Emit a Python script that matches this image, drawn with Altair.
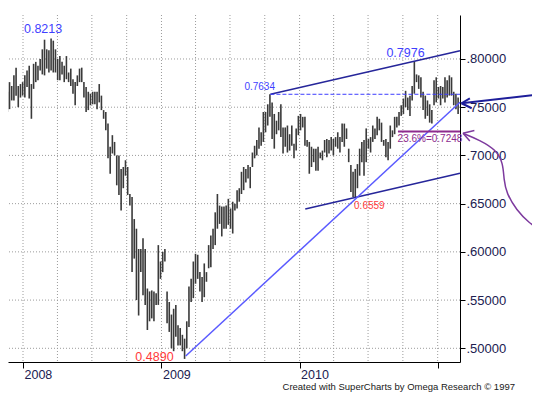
import altair as alt
import pandas as pd

# ---------------- data ----------------
highs = [0.790, 0.767, 0.766, 0.776, 0.772, 0.783, 0.791, 0.772, 0.774, 0.776,
         0.783, 0.788, 0.793, 0.774, 0.795, 0.797, 0.793, 0.800, 0.810, 0.820,
         0.810, 0.809, 0.8213, 0.819, 0.810, 0.800, 0.803, 0.797, 0.793, 0.803,
         0.786, 0.790, 0.779, 0.776, 0.783, 0.790, 0.791, 0.776, 0.771, 0.766,
         0.764, 0.766, 0.766, 0.766, 0.774, 0.762, 0.747, 0.745, 0.733, 0.709,
         0.721, 0.714, 0.700, 0.700, 0.686, 0.688, 0.695, 0.688, 0.660, 0.657,
         0.634, 0.624, 0.603, 0.603, 0.614, 0.603, 0.562, 0.559, 0.560, 0.559,
         0.557, 0.607, 0.590, 0.600, 0.603, 0.559, 0.548, 0.535, 0.541, 0.545,
         0.524, 0.521, 0.514, 0.510, 0.528, 0.564, 0.572, 0.590, 0.598, 0.597,
         0.579, 0.574, 0.588, 0.579, 0.607, 0.617, 0.624, 0.641, 0.660, 0.648,
         0.647, 0.647, 0.648, 0.655, 0.645, 0.652, 0.650, 0.664, 0.666, 0.683,
         0.688, 0.686, 0.690, 0.688, 0.703, 0.710, 0.716, 0.729, 0.724, 0.745,
         0.745, 0.753, 0.7634, 0.755, 0.743, 0.736, 0.745, 0.753, 0.729, 0.729,
         0.731, 0.722, 0.731, 0.712, 0.728, 0.741, 0.743, 0.740, 0.740, 0.716,
         0.714, 0.709, 0.707, 0.707, 0.709, 0.703, 0.705, 0.716, 0.717, 0.716,
         0.719, 0.717, 0.719, 0.724, 0.719, 0.733, 0.733, 0.728, 0.707, 0.690,
         0.683, 0.686, 0.691, 0.707, 0.714, 0.716, 0.728, 0.717, 0.719, 0.731,
         0.728, 0.740, 0.738, 0.734, 0.716, 0.717, 0.714, 0.731, 0.726, 0.740,
         0.740, 0.745, 0.752, 0.759, 0.767, 0.760, 0.762, 0.772, 0.7976, 0.784,
         0.783, 0.781, 0.766, 0.762, 0.757, 0.753, 0.747, 0.778, 0.781, 0.771,
         0.772, 0.771, 0.781, 0.778, 0.783, 0.781, 0.766, 0.764, 0.760]

lows = [0.753, 0.743, 0.745, 0.748, 0.757, 0.757, 0.762, 0.750, 0.760, 0.762,
        0.760, 0.771, 0.759, 0.738, 0.769, 0.776, 0.778, 0.788, 0.784, 0.783,
        0.790, 0.786, 0.788, 0.786, 0.786, 0.778, 0.778, 0.784, 0.776, 0.779,
        0.776, 0.772, 0.764, 0.752, 0.772, 0.776, 0.776, 0.760, 0.745, 0.747,
        0.752, 0.753, 0.753, 0.748, 0.755, 0.747, 0.738, 0.726, 0.697, 0.681,
        0.702, 0.700, 0.669, 0.659, 0.643, 0.666, 0.679, 0.659, 0.648, 0.579,
        0.593, 0.550, 0.534, 0.579, 0.555, 0.545, 0.519, 0.528, 0.531, 0.528,
        0.545, 0.545, 0.572, 0.579, 0.590, 0.526, 0.517, 0.500, 0.497, 0.512,
        0.503, 0.503, 0.497, 0.489, 0.500, 0.522, 0.548, 0.552, 0.567, 0.572,
        0.559, 0.548, 0.553, 0.569, 0.583, 0.584, 0.603, 0.607, 0.624, 0.629,
        0.616, 0.624, 0.624, 0.628, 0.624, 0.619, 0.643, 0.645, 0.652, 0.660,
        0.664, 0.672, 0.676, 0.666, 0.688, 0.697, 0.700, 0.707, 0.710, 0.714,
        0.724, 0.731, 0.740, 0.717, 0.707, 0.722, 0.726, 0.719, 0.702, 0.709,
        0.703, 0.705, 0.710, 0.697, 0.705, 0.721, 0.726, 0.729, 0.710, 0.709,
        0.681, 0.688, 0.693, 0.684, 0.684, 0.697, 0.695, 0.703, 0.698, 0.702,
        0.705, 0.700, 0.709, 0.707, 0.703, 0.714, 0.709, 0.717, 0.693, 0.662,
        0.657, 0.6559, 0.666, 0.679, 0.693, 0.679, 0.693, 0.707, 0.703, 0.714,
        0.717, 0.721, 0.726, 0.714, 0.710, 0.698, 0.695, 0.707, 0.719, 0.722,
        0.729, 0.731, 0.741, 0.743, 0.750, 0.747, 0.741, 0.757, 0.764, 0.776,
        0.769, 0.760, 0.747, 0.738, 0.741, 0.734, 0.733, 0.752, 0.755, 0.759,
        0.752, 0.759, 0.755, 0.760, 0.762, 0.762, 0.752, 0.748, 0.743]

first_bar = "2007-11-09"
last_bar = "2011-02-24"

y_ticks = [0.50, 0.55, 0.60, 0.65, 0.70, 0.75, 0.80]
year_ticks = [2008, 2009, 2010, 2011]
quarter_grid = ["2008-01-01", "2008-04-01", "2008-07-01", "2008-10-01",
                "2009-01-01", "2009-04-01", "2009-07-01", "2009-10-01",
                "2010-01-01", "2010-04-01", "2010-07-01", "2010-10-01",
                "2011-01-01"]

# trend / channel lines: start date, start value, end date, end value
line_names = ["upper", "lower", "trend"]
line_x1 = ["2009-10-16", "2010-01-16", "2009-03-06"]
line_y1 = [0.7634, 0.6444, 0.4920]
line_x2 = ["2011-03-01", "2011-03-01", "2011-03-01"]
line_y2 = [0.8086, 0.6815, 0.7551]

dash_level = 0.7634
dash_from, dash_to = "2009-10-16", "2011-03-01"
fib_level = 0.7248
fib_from, fib_to = "2010-09-18", "2011-03-01"

# price labels
lab_text = ["0.8213", "0.7976", "0.4890", "0.7634", "0.6559", "23.6%=0.7248"]
lab_date = ["2008-02-23", "2010-10-08", "2009-02-02", "2009-10-28", "2010-05-25", "2010-09-17"]
lab_val = [0.8270, 0.8021, 0.4868, 0.7679, 0.6444, 0.7144]

# blue arrow (outside the plot, right) : segments
barrow_x1 = ["2011-09-28", "2011-03-05", "2011-03-05"]
barrow_y1 = [0.7634, 0.7541, 0.7541]
barrow_x2 = ["2011-03-05", "2011-03-27", "2011-04-01"]
barrow_y2 = [0.7541, 0.7592, 0.7489]

# purple curved arrow
parrow_date = ["2011-03-09", "2011-04-22", "2011-06-05", "2011-06-23", "2011-06-25",
               "2011-07-02", "2011-07-28", "2011-09-01", "2011-09-28"]
parrow_val = [0.7229, 0.7160, 0.7056, 0.6918, 0.6745, 0.6607, 0.6434, 0.6296, 0.6227]
phead_x2 = ["2011-04-08", "2011-03-27"]
phead_y2 = [0.7259, 0.7150]

footer = "Created with SuperCharts by Omega Research \u00a9 1997"

# ---------------- frames ----------------
FONT = "Liberation Sans"
bars = pd.DataFrame({"date": pd.date_range(first_bar, last_bar, periods=len(highs)),
                     "high": highs, "low": lows})
vgrid = pd.DataFrame({"date": pd.to_datetime(quarter_grid)})
hgrid = pd.DataFrame({"value": y_ticks})
lines = pd.DataFrame({"name": line_names, "x1": pd.to_datetime(line_x1), "y1": line_y1,
                      "x2": pd.to_datetime(line_x2), "y2": line_y2})
dash = pd.DataFrame({"x1": pd.to_datetime([dash_from]), "x2": pd.to_datetime([dash_to]), "y": [dash_level]})
fib = pd.DataFrame({"x1": pd.to_datetime([fib_from]), "x2": pd.to_datetime([fib_to]), "y": [fib_level]})
labels = pd.DataFrame({"text": lab_text, "date": pd.to_datetime(lab_date), "value": lab_val})
barrow = pd.DataFrame({"x1": pd.to_datetime(barrow_x1), "y1": barrow_y1,
                       "x2": pd.to_datetime(barrow_x2), "y2": barrow_y2})
parrow = pd.DataFrame({"date": pd.to_datetime(parrow_date), "value": parrow_val,
                       "order": list(range(len(parrow_val)))})
phead = pd.DataFrame({"x1": pd.to_datetime([parrow_date[0]] * 2), "y1": [parrow_val[0]] * 2,
                      "x2": pd.to_datetime(phead_x2), "y2": phead_y2})

xscale = alt.Scale(domain=[alt.DateTime(year=2007, month=11, date=22, hours=8),
                           alt.DateTime(year=2011, month=3, date=1)])
yscale = alt.Scale(domain=[0.4858, 0.8456], zero=False, nice=False)

x_axis = alt.Axis(values=[alt.DateTime(year=y, month=1, date=1) for y in year_ticks],
                  labelExpr="year(datum.value) < 2011 ? timeFormat(datum.value, '%Y') : ''",
                  grid=False, tickSize=6, tickColor="black", domainColor="black",
                  labelAlign="left", labelBaseline="top", labelPadding=0, labelOffset=1,
                  labelFontSize=12.5, labelColor="#202050", labelFont=FONT,
                  labelFlush=False, labelOverlap=False, labelBound=False, title=None)
y_axis = alt.Axis(orient="right", values=y_ticks,
                  labelExpr="substring(format(datum.value, '.5f'), 1)",
                  grid=False, tickSize=5, tickColor="black", domainColor="black",
                  labelPadding=1, labelFontSize=13, labelColor="#202050", labelFont=FONT,
                  labelBaseline="middle", labelFlush=False, labelOverlap=False, title=None)


def X(field):
    return alt.X(field, scale=xscale, axis=x_axis)


def Y(field):
    return alt.Y(field, scale=yscale, axis=y_axis)


grid_style = dict(color="#9c9c9c", strokeDash=[1, 2], strokeWidth=1)

vg = alt.Chart(vgrid).mark_rule(**grid_style).encode(x=X("date:T"))
hg = alt.Chart(hgrid).mark_rule(**grid_style).encode(y=Y("value:Q"))

bar_layer = alt.Chart(bars).mark_rule(color="#3a3a3a", strokeWidth=1.6, clip=True).encode(
    x=X("date:T"), y=Y("low:Q"), y2="high:Q")

line_colors = alt.Scale(domain=line_names, range=["#26269a", "#26269a", "#5a5aff"])
line_widths = alt.Scale(domain=line_names, range=[1.5, 1.5, 1.0])
trend_layer = alt.Chart(lines).mark_rule().encode(
    x=X("x1:T"), x2="x2:T", y=Y("y1:Q"), y2="y2:Q",
    color=alt.Color("name:N", scale=line_colors, legend=None),
    strokeWidth=alt.StrokeWidth("name:N", scale=line_widths, legend=None))

dash_layer = alt.Chart(dash).mark_rule(color="#3c3cff", strokeDash=[4, 2], strokeWidth=1).encode(
    x=X("x1:T"), x2="x2:T", y=Y("y:Q"))

fib_layer = alt.Chart(fib).mark_rule(color="#8e2a8e", strokeWidth=2).encode(
    x=X("x1:T"), x2="x2:T", y=Y("y:Q"))


def label_layer(texts, color, size, align):
    d = labels[labels["text"].isin(texts)]
    return alt.Chart(d).mark_text(color=color, fontSize=size, align=align, baseline="alphabetic",
                                  font=FONT).encode(
        x=X("date:T"), y=Y("value:Q"), text="text:N")


l1 = label_layer(["0.8213", "0.7976"], "#3f3fff", 12.5, "center")
l2 = label_layer(["0.7634"], "#3f3fff", 10, "right")
l3 = label_layer(["0.4890"], "#ff3b3b", 12.5, "right")
l4 = label_layer(["0.6559"], "#ff3b3b", 10, "left")
l5 = label_layer(["23.6%=0.7248"], "#8e2a8e", 10, "left")

barrow_layer = alt.Chart(barrow).mark_rule(color="#1e1e9a", strokeWidth=2).encode(
    x=X("x1:T"), x2="x2:T", y=Y("y1:Q"), y2="y2:Q")

parrow_layer = alt.Chart(parrow).mark_line(color="#7d3a9e", strokeWidth=1.5, interpolate="basis").encode(
    x=X("date:T"), y=Y("value:Q"), order="order:Q")
phead_layer = alt.Chart(phead).mark_rule(color="#7d3a9e", strokeWidth=1.5).encode(
    x=X("x1:T"), x2="x2:T", y=Y("y1:Q"), y2="y2:Q")

foot = alt.Chart(pd.DataFrame({"t": [footer]})).mark_text(
    font=FONT, fontSize=9.5, color="#202020", align="right", baseline="alphabetic").encode(
    text="t:N", x=alt.value(507), y=alt.value(375))

chart = alt.layer(vg, hg, bar_layer, trend_layer, dash_layer, fib_layer,
                  l1, l2, l3, l4, l5, barrow_layer, parrow_layer, phead_layer, foot).properties(
    width=452, height=347,
    padding={"left": 0, "top": 7, "right": 72, "bottom": 33},
    autosize=alt.AutoSizeParams(type="none"),
    background="white",
).configure_view(stroke=None)

chart.save("out.html", embed_options={"renderer": "svg", "actions": False})
